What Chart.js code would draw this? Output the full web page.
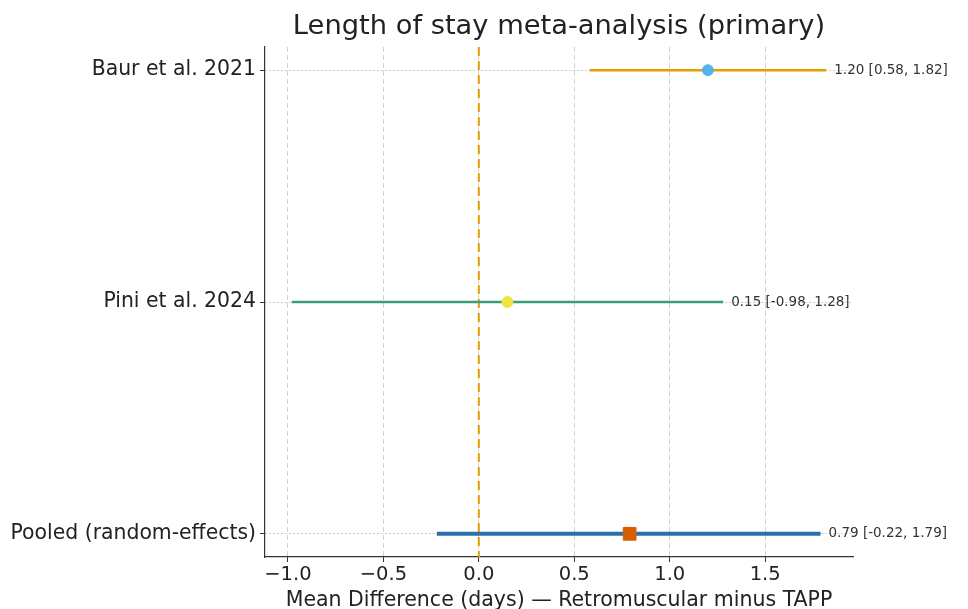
<!DOCTYPE html>
<html>
<head>
<meta charset="utf-8">
<script src="https://cdn.jsdelivr.net/npm/chart.js@4/dist/chart.umd.min.js"></script>
<style>
  html, body { margin: 0; padding: 0; background: #fff; }
  #wrap { width: 968px; height: 609px; }
</style>
</head>
<body>
<div id="wrap"><canvas id="forest"></canvas></div>
<script>
// studies, top to bottom
var studies = ['Baur et al. 2021', 'Pini et al. 2024', 'Pooled (random-effects)'];
var estimates = [1.20, 0.15, 0.79];
var lower = [0.58, -0.98, -0.22];
var upper = [1.82, 1.28, 1.79];
var xTicks = [-1.0, -0.5, 0.0, 0.5, 1.0, 1.5];

var lineColors = ['#E69F00', '#3A9E77', '#2C6FAD'];
var pointColors = ['#56B4E9', '#F0E442', '#D55E00'];
var lineWidths = [2.5, 2.5, 4];

var font = "'DejaVu Sans', sans-serif";

var datasets = [];
// CI lines
studies.forEach(function (s, i) {
    datasets.push({
        label: s + ' CI',
        data: [{ x: lower[i], y: i }, { x: upper[i], y: i }],
        showLine: true,
        borderColor: lineColors[i],
        borderWidth: lineWidths[i],
        pointRadius: 0,
        order: 2
    });
});
// point estimates
studies.forEach(function (s, i) {
    datasets.push({
        label: s,
        data: [{ x: estimates[i], y: i }],
        backgroundColor: pointColors[i],
        borderColor: pointColors[i],
        pointStyle: i === 2 ? 'rect' : 'circle',
        pointRadius: i === 2 ? 9 : 5.5,
        order: 1
    });
});
// null line at zero
datasets.push({
    label: 'zero',
    data: [{ x: 0, y: -0.1 }, { x: 0, y: 2.1 }],
    showLine: true,
    borderColor: '#E69F00',
    borderWidth: 2,
    borderDash: [9, 5],
    pointRadius: 0,
    order: 3
});

// title over the plot area + CI text labels
var extras = {
    id: 'extras',
    afterDraw: function (chart) {
        var ctx = chart.ctx;
        var area = chart.chartArea;
        var xs = chart.scales.x, ys = chart.scales.y;
        ctx.save();
        ctx.fillStyle = '#222';
        ctx.font = '27.3px ' + font;
        ctx.textAlign = 'center';
        ctx.textBaseline = 'middle';
        ctx.fillText('Length of stay meta-analysis (primary)', (area.left + area.right) / 2, 27);

        ctx.font = '13.5px ' + font;
        ctx.fillStyle = '#333';
        ctx.textAlign = 'left';
        studies.forEach(function (s, i) {
            var txt = estimates[i].toFixed(2) + ' [' + lower[i].toFixed(2) + ', ' + upper[i].toFixed(2) + ']';
            ctx.fillText(txt, xs.getPixelForValue(upper[i]) + 8, ys.getPixelForValue(i));
        });
        ctx.restore();
    }
};

new Chart(document.getElementById('forest'), {
    type: 'scatter',
    data: { datasets: datasets },
    options: {
        responsive: true,
        maintainAspectRatio: false,
        animation: false,
        layout: { padding: { left: 0, top: 47, right: 115, bottom: 0 } },
        plugins: {
            legend: { display: false },
            tooltip: { enabled: false }
        },
        scales: {
            x: {
                type: 'linear',
                min: -1.12,
                max: 1.96,
                afterBuildTicks: function (scale) {
                    scale.ticks = xTicks.map(function (v) { return { value: v }; });
                },
                afterFit: function (scale) { scale.height = 52; },
                ticks: {
                    color: '#222',
                    font: { family: font, size: 19.5 },
                    padding: 1,
                    callback: function (v) { return Number(v).toFixed(1).replace('-', '\u2212'); }
                },
                grid: {
                    color: '#d0d0d0',
                    lineWidth: 1,
                    tickColor: '#333',
                    tickLength: 5
                },
                border: { display: true, color: '#333', width: 1.2, dash: [5, 3] },
                title: {
                    display: true,
                    text: 'Mean Difference (days) \u2014 Retromuscular minus TAPP',
                    color: '#222',
                    font: { family: font, size: 20.5 },
                    padding: { top: 0, bottom: -4 }
                }
            },
            y: {
                type: 'linear',
                reverse: true,
                min: -0.1,
                max: 2.1,
                afterBuildTicks: function (scale) {
                    scale.ticks = studies.map(function (s, i) { return { value: i }; });
                },
                afterFit: function (scale) { scale.width = 265; },
                ticks: {
                    color: '#222',
                    font: { family: font, size: 20.4 },
                    padding: 4,
                    callback: function (v) { return studies[v]; }
                },
                grid: {
                    color: '#cccccc',
                    lineWidth: 1,
                    tickColor: '#333',
                    tickLength: 5
                },
                border: { display: true, color: '#333', width: 1.2, dash: [2, 2] }
            }
        }
    },
    plugins: [extras]
});
</script>
</body>
</html>
